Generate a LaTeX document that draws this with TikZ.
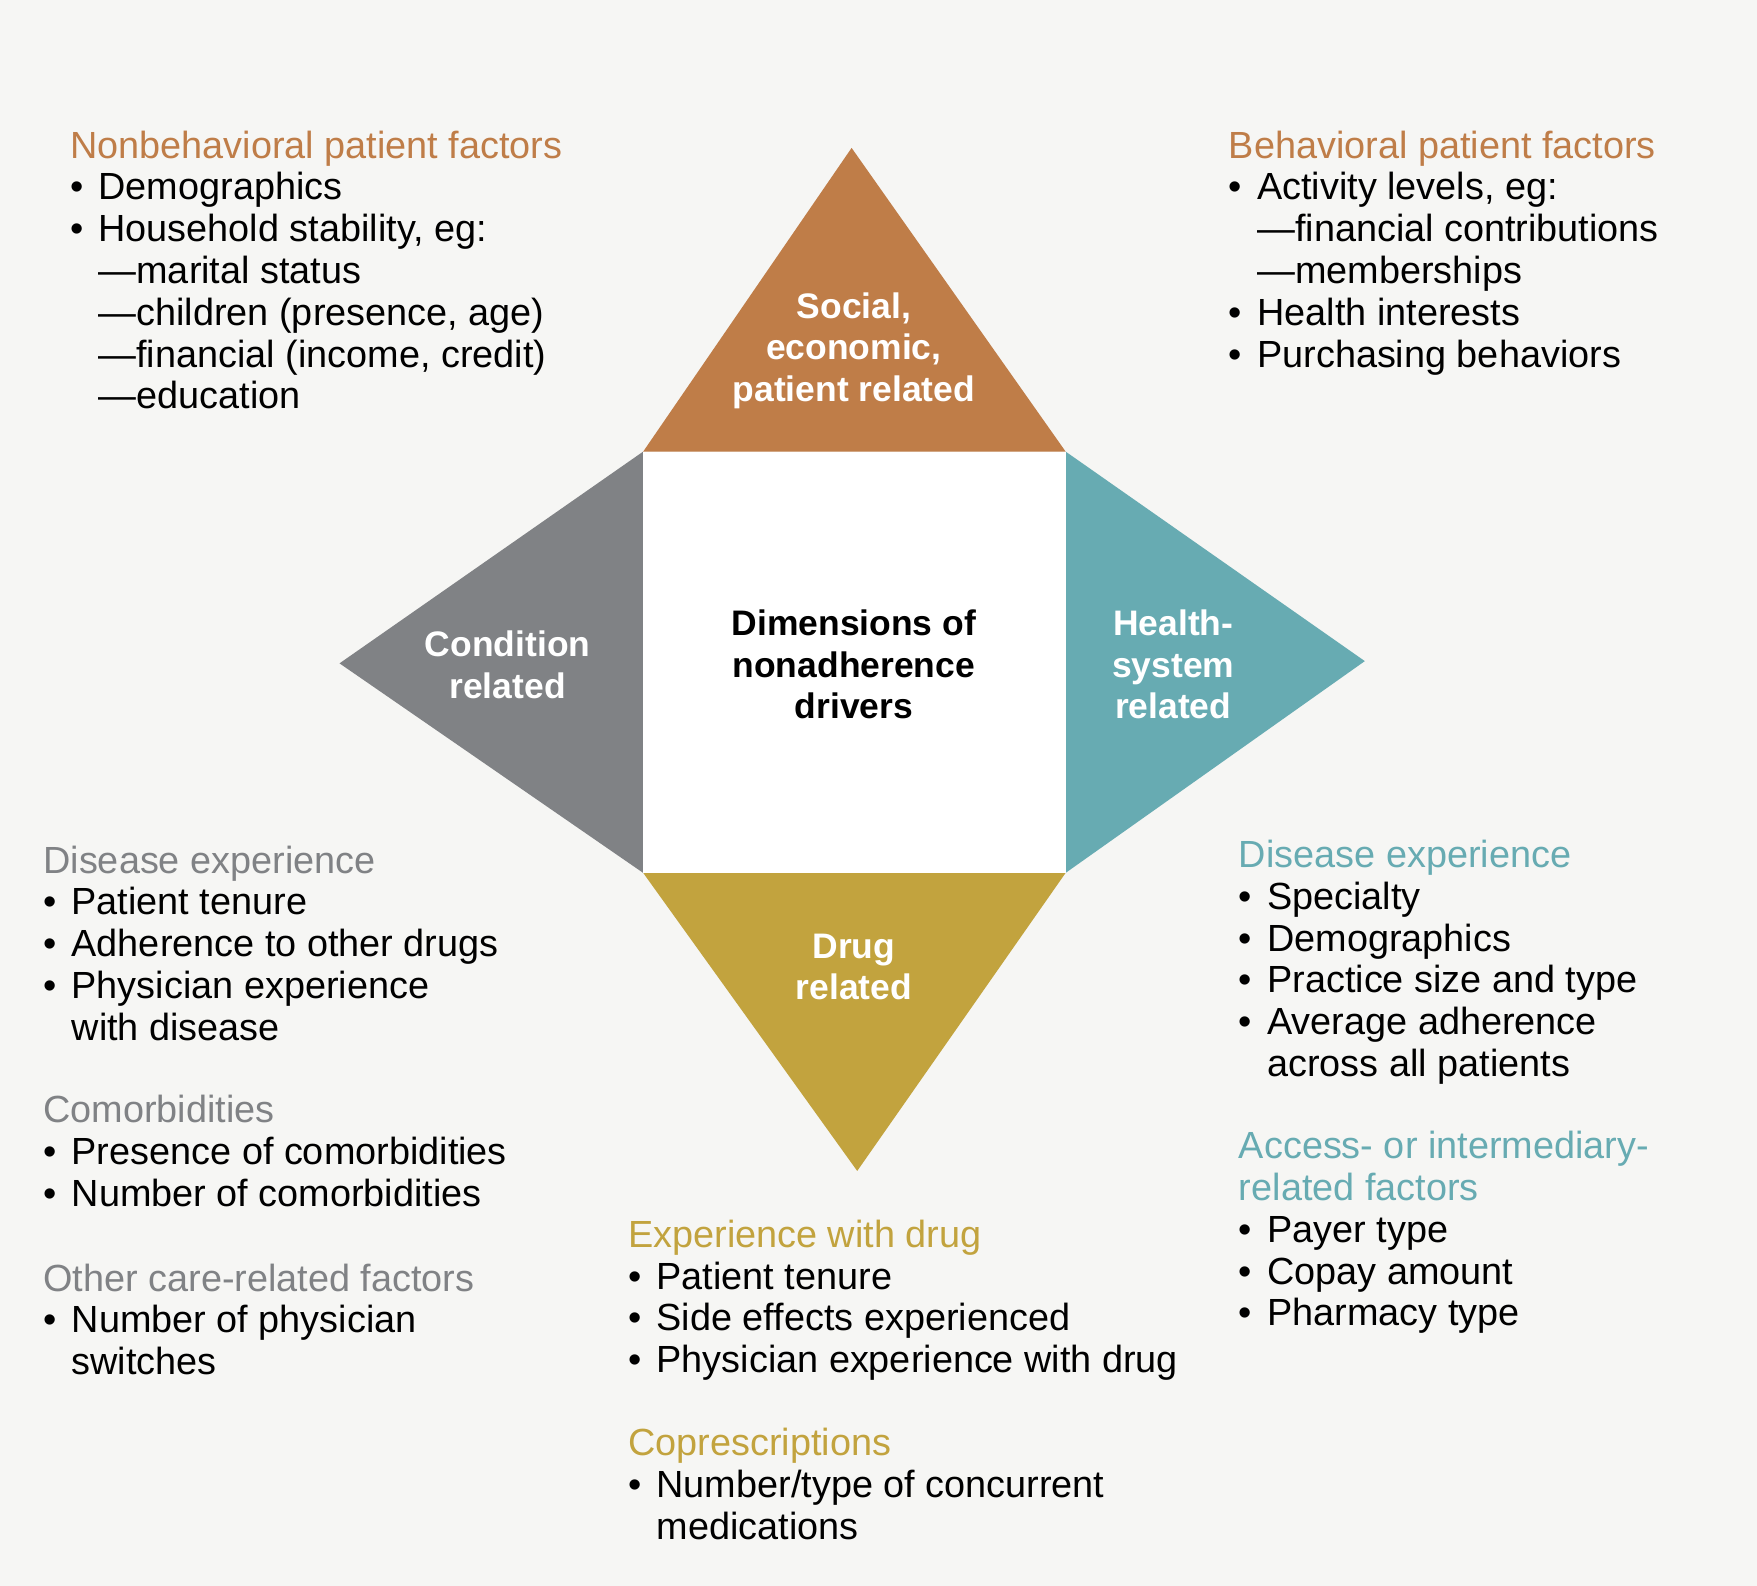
\documentclass[tikz,border=0pt]{standalone}
\usepackage{fontspec}
\setmainfont{Liberation Sans}
\usetikzlibrary{calc}
\definecolor{bgcol}{HTML}{F6F6F4}
\definecolor{social}{HTML}{BF7D48}
\definecolor{condition}{HTML}{808285}
\definecolor{health}{HTML}{67ABB2}
\definecolor{drug}{HTML}{C2A33E}
\newcommand{\bl}[1]{\makebox[0.75em][l]{\textbullet}#1}
\newcommand{\ct}{\hspace*{0.75em}}
\newcommand{\ds}[1]{\hspace*{0.75em}—#1}
\tikzset{
  facet/.style={draw=none},
  facetlabel/.style={text=white,font=\fontsize{9}{10.6}\selectfont\bfseries,align=center},
  block/.style={anchor=north west,align=left,inner sep=0pt,font=\fontsize{9.6}{10.6}\selectfont},
}
\begin{document}
\begin{tikzpicture}[x=0.01cm,y=-0.01cm]
    %% Background
    \fill[bgcol] (0,0) rectangle (1568,1415);
    %% Facets
    \fill[social] (574,403) -- (760,132) -- (951,403) -- cycle;
    \fill[condition] (574,403) -- (303,592) -- (574,779) -- cycle;
    \fill[health] (951,403) -- (1218,590) -- (951,779) -- cycle;
    \fill[drug] (574,779) -- (765,1045) -- (951,779) -- cycle;
    \fill[white] (574,403) rectangle (951,779);
    %% Labels
    \node[facetlabel] (social) at (762,313) {Social,\\economic,\\patient related};
    \node[facetlabel] (condition) at (453,593) {Condition\\related};
    \node[facetlabel] (health) at (1047,593) {Health-\\system\\related};
    \node[facetlabel] (drug) at (762,863) {Drug\\related};
    \node[facetlabel,text=black] (center) at (762,593) {Dimensions of\\nonadherence\\drivers};
    %% Top left
    \node[block] (nonbeh) at (62,116) {\textcolor{social}{Nonbehavioral patient factors}\\
      \bl{Demographics}\\ \bl{Household stability, eg:}\\
      \ds{marital status}\\ \ds{children (presence, age)}\\
      \ds{financial (income, credit)}\\ \ds{education}};
    %% Top right
    \node[block] (beh) at (1096,116) {\textcolor{social}{Behavioral patient factors}\\
      \bl{Activity levels, eg:}\\ \ds{financial contributions}\\ \ds{memberships}\\
      \bl{Health interests}\\ \bl{Purchasing behaviors}};
    %% Left
    \node[block] (disL) at (38,754) {\textcolor{condition}{Disease experience}\\
      \bl{Patient tenure}\\ \bl{Adherence to other drugs}\\
      \bl{Physician experience}\\ \ct with disease};
    \node[block] (comorb) at (38,977) {\textcolor{condition}{Comorbidities}\\
      \bl{Presence of comorbidities}\\ \bl{Number of comorbidities}};
    \node[block] (other) at (38,1127) {\textcolor{condition}{Other care-related factors}\\
      \bl{Number of physician}\\ \ct switches};
    %% Right
    \node[block] (disR) at (1105,749) {\textcolor{health}{Disease experience}\\
      \bl{Specialty}\\ \bl{Demographics}\\ \bl{Practice size and type}\\
      \bl{Average adherence}\\ \ct across all patients};
    \node[block] (access) at (1105,1009) {\textcolor{health}{Access- or intermediary-}\\
      \textcolor{health}{related factors}\\
      \bl{Payer type}\\ \bl{Copay amount}\\ \bl{Pharmacy type}};
    %% Bottom
    \node[block] (expdrug) at (560,1088) {\textcolor{drug}{Experience with drug}\\
      \bl{Patient tenure}\\ \bl{Side effects experienced}\\ \bl{Physician experience with drug}};
    \node[block] (copres) at (560,1274) {\textcolor{drug}{Coprescriptions}\\
      \bl{Number/type of concurrent}\\ \ct medications};
\end{tikzpicture}
\end{document}
